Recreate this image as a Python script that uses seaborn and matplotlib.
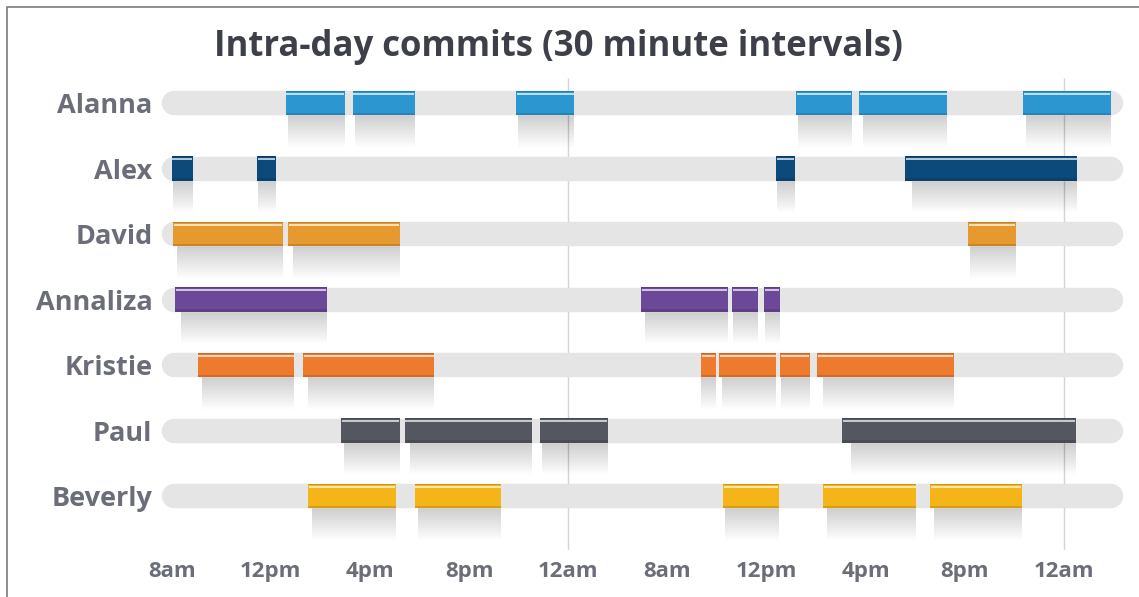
import matplotlib
matplotlib.use("Agg")
import matplotlib.pyplot as plt
import seaborn as sns
import numpy as np

# ── data ─────────────────────────────────────────────────────────
# x in display hours: 0 = 8am (day 1), one tick every 4 "hours"
NAMES = ["Alanna", "Alex", "David", "Annaliza", "Kristie", "Paul", "Beverly"]
COLORS = ["#2b96cf", "#0c4a7b", "#e5992e", "#6c4899", "#ee7a2d", "#54575f", "#f5b417"]

ALANNA = [(4.6, 7.0), (7.3, 9.8), (13.9, 16.25), (25.2, 27.45), (27.75, 31.3), (34.35, 37.9)]
ALEX = [(0.0, 0.85), (3.45, 4.2), (24.4, 25.15), (29.6, 36.55)]
DAVID = [(0.05, 4.5), (4.7, 9.2), (32.15, 34.05)]
ANNALIZA = [(0.15, 6.25), (18.95, 22.45), (22.6, 23.65), (23.9, 24.55)]
KRISTIE = [(1.05, 4.95), (5.3, 10.6), (21.35, 21.95), (22.1, 24.4), (24.55, 25.75), (26.05, 31.55)]
PAUL = [(6.85, 9.2), (9.4, 14.55), (14.85, 17.6), (27.05, 36.5)]
BEVERLY = [(5.5, 9.05), (9.8, 13.3), (22.25, 24.5), (26.3, 30.05), (30.6, 34.3)]
SEGMENTS = [ALANNA, ALEX, DAVID, ANNALIZA, KRISTIE, PAUL, BEVERLY]

TICK_POS = [0, 4, 8, 12, 16, 20, 24, 28, 32, 36]
TICK_LABELS = ["8am", "12pm", "4pm", "8pm", "12am", "8am", "12pm", "4pm", "8pm", "12am"]
MIDNIGHT = [16, 36]

TRACK = (0.1, 37.9)

# ── style ────────────────────────────────────────────────────────
sns.set_theme(style="white")
plt.rcParams["font.family"] = ["Open Sans", "DejaVu Sans"]

TEXT_GRAY = "#6b6e78"
TRACK_COLOR = "#e5e5e5"
BAR_H = 0.38

fig = plt.figure(figsize=(11.39, 5.97), dpi=100)
ax = fig.add_axes([158 / 1139, 1 - 550 / 597, (1130 - 158) / 1139, (550 - 70) / 597])
ax.set_xlim(-0.553, 38.67)
ax.set_ylim(6.824, -0.504)

# frame line on the left / top of the picture
fig.add_artist(plt.Rectangle((7 / 1139, -0.1), 1.2, 1 - 7 / 597 + 0.1,
                             transform=fig.transFigure, fill=False,
                             edgecolor="#7a7a7a", linewidth=1.2))

# midnight separators
ax.vlines(MIDNIGHT, -0.38, 6.824, color="#d4d4d4", linewidth=1, zorder=0)

rows = np.arange(len(NAMES))
for i, segs in enumerate(SEGMENTS):
    # grey track with round caps
    ax.plot(TRACK, [i, i], color=TRACK_COLOR, linewidth=17.6,
            solid_capstyle="round", zorder=1)

    starts = np.array([s for s, e in segs])
    widths = np.array([e - s for s, e in segs])
    col = COLORS[i]

    # soft drop shadow below each block
    for k in range(16):
        depth = 0.03 + k * 0.03
        ax.barh(i + BAR_H / 2 + depth / 2, widths * 0.96, left=starts + 0.04 * widths,
                height=depth, color="black", alpha=0.012, linewidth=0, zorder=0.5)

    ax.barh(i, widths, left=starts, height=BAR_H, color=col, linewidth=0, zorder=2)
    # darker lower edge
    ax.barh(i + BAR_H / 2 - 0.02, widths, left=starts, height=0.04,
            color="black", alpha=0.12, linewidth=0, zorder=3)
    # darker top rim + light highlight line
    ax.barh(i - BAR_H / 2 + 0.01, widths, left=starts, height=0.02,
            color="black", alpha=0.15, linewidth=0, zorder=3)
    for s, e in segs:
        ax.hlines(i - BAR_H / 2 + 0.05, s + 0.03, e - 0.03, color="white",
                  alpha=0.75, linewidth=1.3, zorder=4)

ax.set_yticks(rows, NAMES)
ax.set_xticks(TICK_POS, TICK_LABELS)
ax.tick_params(axis="y", length=0, pad=4, labelsize=19.5, labelcolor=TEXT_GRAY)
ax.tick_params(axis="x", direction="in", length=12, width=1, color="#d0d0d0",
               pad=8, labelsize=16, labelcolor=TEXT_GRAY)
for lab in ax.get_yticklabels() + ax.get_xticklabels():
    lab.set_fontweight("bold")
for sp in ax.spines.values():
    sp.set_visible(False)
ax.set_facecolor("none")

fig.text(558.5 / 1139, 1 - 47 / 597, "Intra-day commits (30 minute intervals)",
         ha="center", va="center", fontsize=25, fontweight="bold", color="#3e4049")

fig.savefig("out.png", dpi=100, facecolor="white")
